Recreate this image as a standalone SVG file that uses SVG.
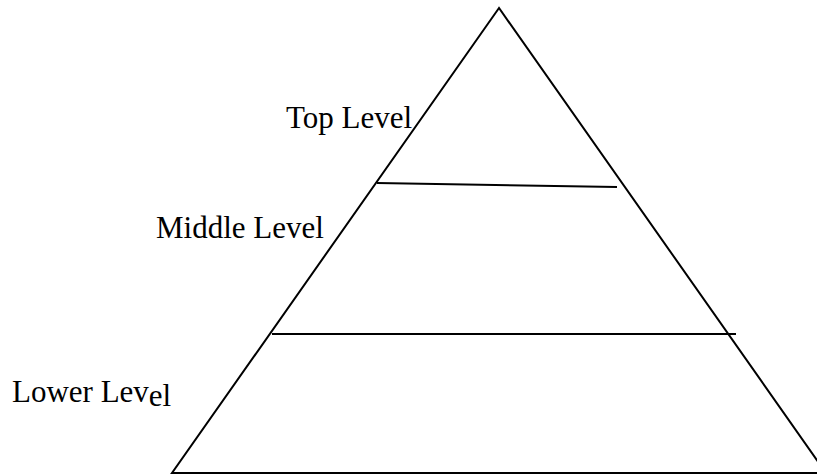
<svg xmlns="http://www.w3.org/2000/svg" width="817" height="474" viewBox="0 0 817 474">
<style>
.ln{stroke:#000;stroke-width:2;fill:none}
.t{font-family:"Liberation Serif","Times New Roman",serif;font-size:31px;fill:#000}
</style>
<rect width="817" height="474" fill="#fff"/>
<g id="connectors">
<polygon class="ln" points="499,8 172,473 826,473"/>
<line class="ln" x1="377" y1="183" x2="617" y2="187"/>
<line class="ln" x1="272" y1="334" x2="736" y2="334"/>
</g>
<g id="top"><text class="t" x="286" y="128">Top Level</text></g>
<g id="middle"><text class="t" x="156" y="238">Middle Level</text></g>
<g id="lower"><text class="t" x="12" y="402">Lower Lev<tspan dy="4">el</tspan></text></g>
</svg>
